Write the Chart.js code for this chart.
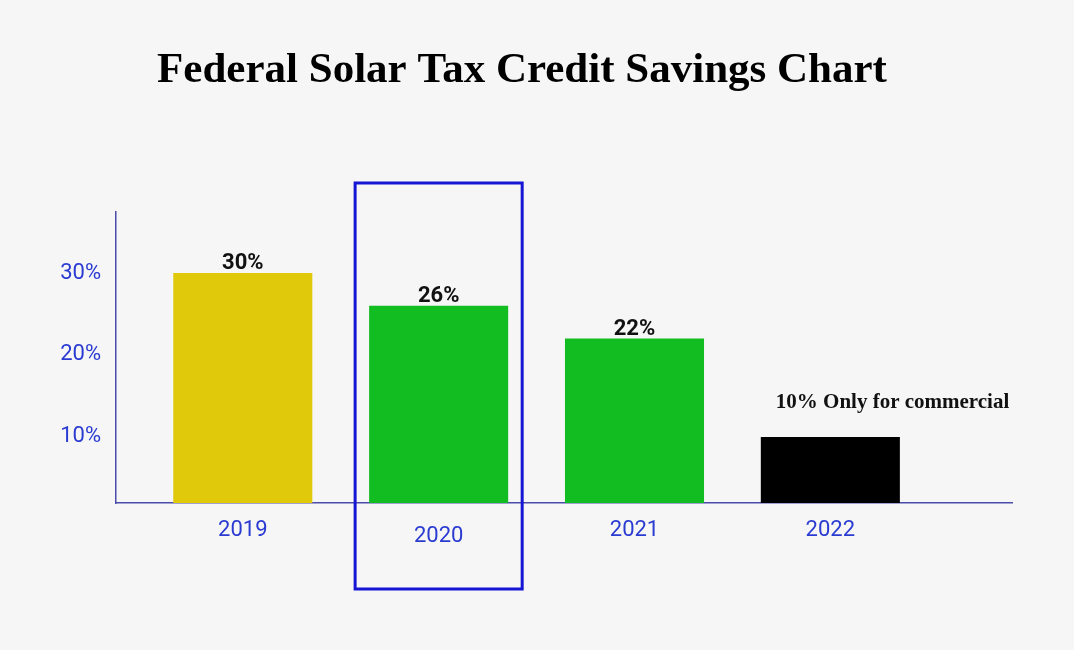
<!DOCTYPE html>
<html>
<head>
<meta charset="utf-8">
<script src="https://cdn.jsdelivr.net/npm/chart.js@4.4.1/dist/chart.umd.min.js"></script>
<style>
  html, body { margin: 0; padding: 0; background: #f6f6f6; }
  #wrap { width: 1074px; height: 650px; }
</style>
</head>
<body>
<div id="wrap"><canvas id="c"></canvas></div>
<script>
// ---- data ----
const years = [2019, 2020, 2021, 2022];
const credit = [30, 26, 22, 10];
const valueLabels = ['30%', '26%', '22%', '10% Only for commercial'];
const yTickValues = [10, 20, 30];
const barColors = ['#e0c90a', '#12bd22', '#12bd22', '#000000'];
const titleText = 'Federal Solar Tax Credit Savings Chart';
const highlightIndex = 1;

const bgPlugin = {
  id: 'bg',
  beforeDraw(chart) {
    const ctx = chart.ctx;
    ctx.save();
    ctx.fillStyle = '#f6f6f6';
    ctx.fillRect(0, 0, chart.width, chart.height);
    ctx.restore();
  }
};

const valuePlugin = {
  id: 'values',
  afterDatasetsDraw(chart) {
    const ctx = chart.ctx;
    const meta = chart.getDatasetMeta(0);
    ctx.save();
    meta.data.forEach((bar, i) => {
      const txt = valueLabels[i];
      ctx.fillStyle = '#111111';
      ctx.textBaseline = 'alphabetic';
      if (i === valueLabels.length - 1) {
        ctx.font = 'bold 21px "Liberation Serif", serif';
        ctx.textAlign = 'left';
        ctx.fillText(txt, bar.x - bar.width / 2 + 15, bar.y - 29);
      } else {
        ctx.font = 'bold 22px Roboto, sans-serif';
        ctx.textAlign = 'center';
        ctx.fillText(txt, bar.x, bar.y - 4);
      }
    });
    ctx.restore();
  }
};

const boxPlugin = {
  id: 'highlight',
  afterDraw(chart, args, opts) {
    const bar = chart.getDatasetMeta(0).data[opts.index];
    if (!bar) return;
    const ctx = chart.ctx;
    ctx.save();
    ctx.strokeStyle = opts.color;
    ctx.lineWidth = opts.lineWidth;
    const l = bar.x - bar.width / 2 - opts.padX;
    const r = bar.x + bar.width / 2 + opts.padX;
    ctx.strokeRect(l, opts.top, r - l, opts.bottom - opts.top);
    ctx.restore();
  }
};

new Chart(document.getElementById('c'), {
  type: 'bar',
  data: {
    labels: years,
    datasets: [{
      data: credit,
      backgroundColor: barColors,
      borderWidth: 0,
      barPercentage: 0.71,
      categoryPercentage: 1.0
    }]
  },
  options: {
    responsive: true,
    maintainAspectRatio: false,
    animation: false,
    layout: { padding: { left: 32, right: 62, top: 0, bottom: 0 } },
    plugins: {
      legend: { display: false },
      tooltip: { enabled: false },
      title: {
        display: true,
        text: titleText,
        color: '#000000',
        font: { family: '"Liberation Serif", serif', size: 43, weight: 'bold', lineHeight: 1.2 },
        padding: { top: 45, bottom: 115.4 }
      },
      highlight: { index: highlightIndex, padX: 14, top: 183, bottom: 589, color: '#1515d4', lineWidth: 3 }
    },
    scales: {
      x: {
        type: 'linear',
        offset: false,
        min: 2018.3526,
        max: 2022.9275,
        grid: { display: false },
        border: { display: true, color: '#4b4baa', width: 1.5 },
        afterBuildTicks(scale) { scale.ticks = years.map(v => ({ value: v })); },
        afterFit(scale) { scale.height = 147; },
        ticks: {
          padding: 6,
          color: '#2a3bd2',
          font: (ctx) => ({ family: 'Roboto, sans-serif', size: 22, lineHeight: ctx.index === highlightIndex ? 1.73 : 1.2 }),
          callback: (v) => String(v),
          autoSkip: false,
          maxRotation: 0
        }
      },
      y: {
        min: 1.95,
        max: 37.44,
        grid: { display: false },
        border: { display: true, color: '#4b4baa', width: 1.5 },
        afterBuildTicks(scale) { scale.ticks = yTickValues.map(v => ({ value: v })); },
        afterFit(scale) { scale.width = 84; },
        ticks: {
          padding: 7,
          color: '#2a3bd2',
          font: { family: 'Roboto, sans-serif', size: 22 },
          callback: (v) => v + '%'
        }
      }
    }
  },
  plugins: [bgPlugin, valuePlugin, boxPlugin]
});
</script>
</body>
</html>
